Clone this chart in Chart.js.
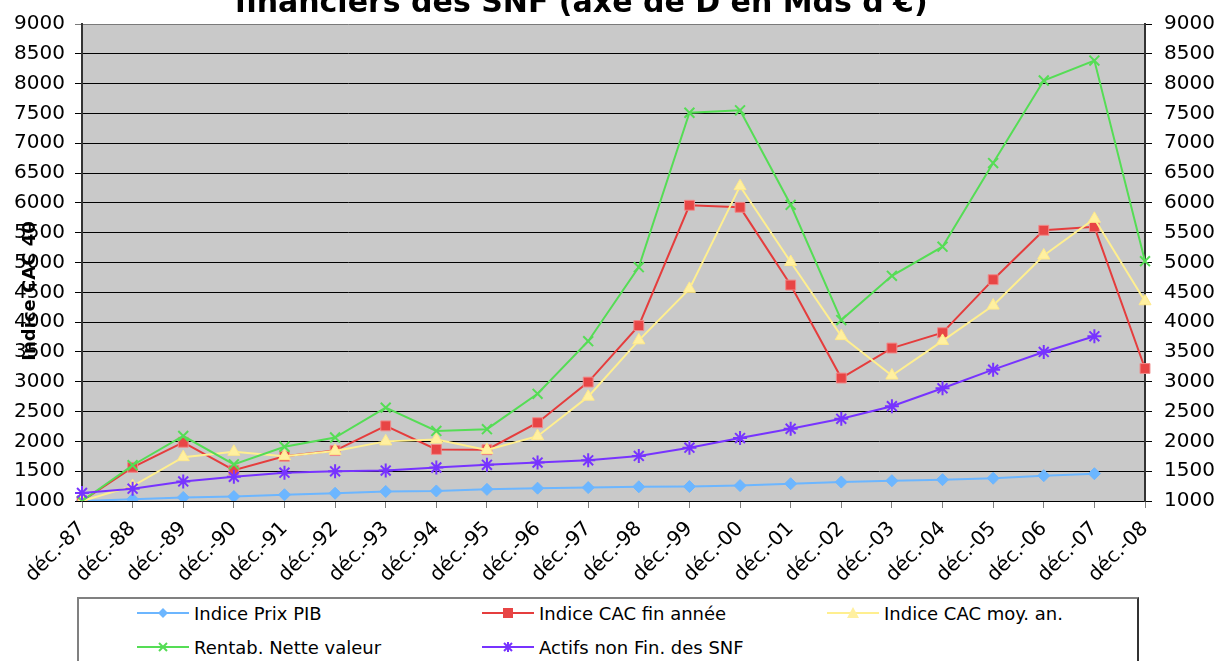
<!DOCTYPE html>
<html>
<head>
<meta charset="utf-8">
<script src="https://cdn.jsdelivr.net/npm/chart.js@4"></script>
<style>
  html, body { margin: 0; padding: 0; background: #fff; }
  #wrap { position: relative; width: 1219px; height: 661px; overflow: hidden; }
  #legend {
    position: absolute; left: 77px; top: 597px; width: 1058px; height: 80px;
    border: 2px solid #808080; border-right-color: #333; background: #fff;
    font-family: "DejaVu Sans", Verdana, sans-serif; font-size: 18px; color: #000;
  }
  .item { position: absolute; display: flex; align-items: center; height: 20px; }
  .item svg { margin-right: 5px; }
</style>
</head>
<body>
<div id="wrap">
  <canvas id="graf" width="1219" height="661"></canvas>
  <div id="legend"></div>
</div>
<script>
const labels = ['déc.-87','déc.-88','déc.-89','déc.-90','déc.-91','déc.-92','déc.-93','déc.-94','déc.-95','déc.-96','déc.-97',
  'déc.-98','déc.-99','déc.-00','déc.-01','déc.-02','déc.-03','déc.-04','déc.-05','déc.-06','déc.-07','déc.-08'];

const prixPIB = [1000,1028,1060,1075,1105,1130,1160,1168,1195,1215,1225,1238,1242,1258,1290,1318,1340,1358,1382,1425,1458,null];
const cacFin  = [1000,1565,1985,1517,1750,1845,2260,1865,1860,2313,2995,3942,5960,5925,4622,3062,3565,3822,4712,5540,5598,3222];
const cacMoy  = [1000,1250,1735,1825,1752,1840,2000,2030,1855,2087,2750,3695,4558,6280,5008,3765,3105,3685,4278,5118,5733,4350];
const rentab  = [1000,1600,2090,1615,1910,2065,2565,2175,2205,2798,3680,4922,7512,7552,5968,4035,4776,5265,6668,8052,8386,5022];
const actifs  = [1135,1206,1328,1406,1475,1497,1510,1562,1607,1645,1682,1756,1894,2056,2212,2378,2590,2890,3203,3500,3762,null];

const names = ['Indice Prix PIB','Indice CAC fin année','Indice CAC moy. an.','Rentab. Nette valeur','Actifs non Fin. des SNF'];
const couleurs = ['#6cb6ff','#e53d3d','#ffef8f','#55dd55','#7733ff'];
const fonds    = ['#6cb6ff','#e84545','#fff0a0','#55dd55','#7733ff'];
const bords    = ['#6cb6ff','#f08a8a','#ffe98a','#55dd55','#7733ff'];
const styles   = ['rectRot','rect','triangle','crossRot','star'];
const series   = [prixPIB, cacFin, cacMoy, rentab, actifs];

const FONT = '"DejaVu Sans", Verdana, sans-serif';

// fond gris de la zone de tracé + titres
const decor = {
  id: 'decor',
  beforeDraw(chart) {
    const { ctx, chartArea: a } = chart;
    ctx.save();
    ctx.fillStyle = '#c9c9c9';
    ctx.fillRect(a.left, a.top, a.right - a.left, a.bottom - a.top);
    ctx.restore();
  },
  afterDraw(chart) {
    const ctx = chart.ctx;
    ctx.save();
    ctx.fillStyle = '#000';
    ctx.font = 'bold 30px ' + FONT;
    ctx.textAlign = 'center';
    ctx.textBaseline = 'alphabetic';
    ctx.fillText("financiers des SNF (axe de D en Mds d'€)", 581, 12);
    ctx.translate(30, 291);
    ctx.rotate(-Math.PI / 2);
    ctx.font = 'bold 18px ' + FONT;
    ctx.textBaseline = 'middle';
    ctx.fillText('Indice CAC 40', 0, 0);
    ctx.restore();
  }
};

const sansSep = v => String(v);

new Chart(document.getElementById('graf'), {
  type: 'line',
  data: {
    labels: labels,
    datasets: series.map((d, i) => ({
      label: names[i],
      data: d,
      borderColor: couleurs[i],
      backgroundColor: fonds[i],
      pointBackgroundColor: fonds[i],
      pointBorderColor: bords[i],
      pointStyle: styles[i],
      pointRadius: i === 0 ? 6 : 7,
      pointBorderWidth: (i >= 3) ? 2 : 1,
      borderWidth: 2,
      tension: 0,
      spanGaps: false,
      order: 5 - i,
      yAxisID: 'y'
    }))
  },
  options: {
    responsive: false,
    animation: false,
    layout: { padding: { top: 23, left: 0, right: 0, bottom: 0 } },
    plugins: {
      legend: { display: false },
      title: { display: false },
      tooltip: { enabled: false }
    },
    scales: {
      x: {
        offset: false,
        grid: { drawOnChartArea: false, color: '#808080', tickLength: 7 },
        border: { color: '#000', width: 1 },
        ticks: { color: '#000', font: { family: FONT, size: 20 }, minRotation: 45, maxRotation: 45, autoSkip: false, padding: 9 },
        afterFit(s) { s.height = 661 - 501; }
      },
      y: {
        position: 'left',
        min: 1000, max: 9000,
        ticks: { stepSize: 500, color: '#000', font: { family: FONT, size: 20 }, padding: 10, callback: sansSep },
        grid: { color: c => c.tick && c.tick.value === 9000 ? '#7a7a7a' : '#000', lineWidth: 1, tickLength: 7 },
        border: { color: '#333', width: 2 },
        afterFit(s) { s.width = 82; }
      },
      y2: {
        position: 'right',
        min: 1000, max: 9000,
        ticks: { stepSize: 500, color: '#000', font: { family: FONT, size: 20 }, padding: 12, callback: sansSep },
        grid: { drawOnChartArea: false, color: '#000', tickLength: 7 },
        border: { color: '#333', width: 2 },
        afterFit(s) { s.width = 1219 - 1145; }
      }
    }
  },
  plugins: [decor]
});

// légende HTML en trois colonnes
const legend = document.getElementById('legend');
const pos = [[58, 4], [403, 4], [748, 4], [58, 38], [403, 38]];
const marqueurs = [
  (c) => `<polygon points="26,5 31,10 26,15 21,10" fill="${c}"/>`,
  (c) => `<rect x="21" y="5" width="10" height="10" fill="${c}"/>`,
  (c) => `<polygon points="26,4 32,15 20,15" fill="${c}"/>`,
  (c) => `<path d="M22,6 L30,14 M30,6 L22,14" stroke="${c}" stroke-width="2"/>`,
  (c) => `<path d="M22,6 L30,14 M30,6 L22,14 M26,5 L26,15" stroke="${c}" stroke-width="2"/>`
];
names.forEach((n, i) => {
  const el = document.createElement('div');
  el.className = 'item';
  el.style.left = pos[i][0] + 'px';
  el.style.top = pos[i][1] + 'px';
  el.innerHTML = `<svg width="52" height="20"><line x1="0" y1="10" x2="52" y2="10" stroke="${couleurs[i]}" stroke-width="2"/>${marqueurs[i](fonds[i])}</svg><span>${n}</span>`;
  legend.appendChild(el);
});
</script>
</body>
</html>
